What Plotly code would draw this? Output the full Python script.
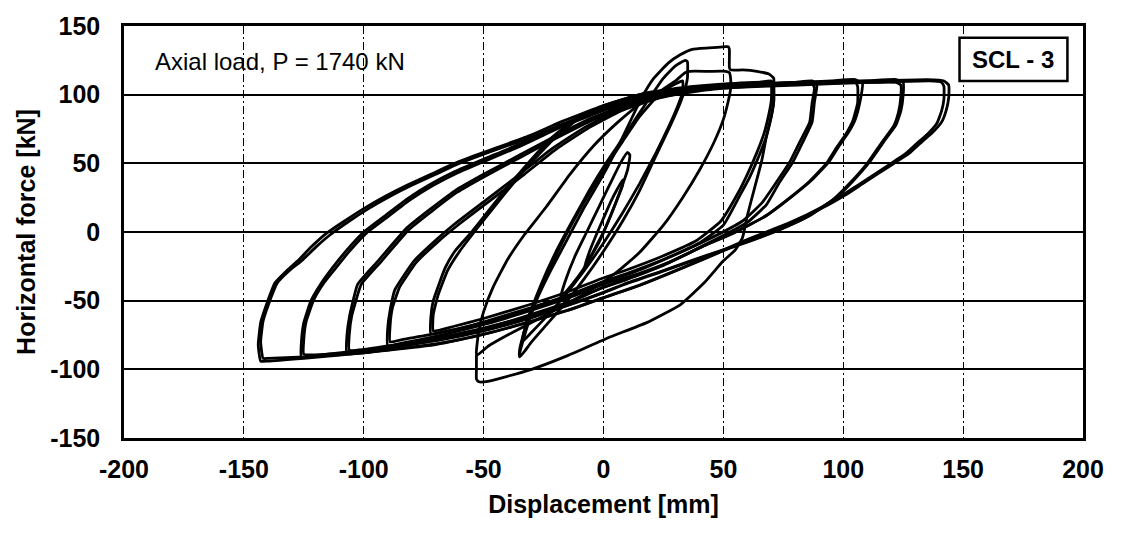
import plotly.graph_objects as go

# Hysteresis record of specimen SCL-3: each list is one load cycle as (displacement mm, force kN)
loop_10 = [(-8, -26), (-6, -15), (-3, -2), (0, 10), (3, 22), (6, 32), (8, 38),
           (8, 34), (6, 25), (3, 12), (0, 0), (-3, -10), (-6, -20), (-8, -26)]

loop_20 = [(-18, -48), (-16, -36), (-12, -18), (-7, 0), (-2, 18), (3, 36), (7, 50), (10, 58),
           (11, 56), (10, 45), (7, 30), (3, 12), (-2, -8), (-8, -26), (-13, -38), (-18, -48)]

loop_35a = [(-35, -91), (-35, -86), (-33, -72), (-30, -56), (-26, -38), (-20, -15), (-13, 8),
            (-6, 30), (1, 50), (8, 68), (14, 84), (19, 97), (25, 112), (30, 121), (34, 125),
            (35, 124), (35, 112), (34, 104), (32, 94), (28, 78), (22, 56), (15, 30), (8, 8),
            (0, -14), (-8, -34), (-16, -52), (-24, -68), (-30, -80), (-33, -87), (-35, -91)]

loop_35b = [(-34, -80), (-32, -65), (-28, -48), (-22, -25), (-15, 0), (-8, 22), (0, 45),
            (8, 66), (15, 84), (22, 98), (28, 106), (33, 110), (33, 102), (31, 92), (27, 76),
            (22, 58), (15, 35), (8, 14), (0, -8), (-8, -28), (-16, -46), (-24, -62),
            (-30, -73), (-34, -80)]

# first excursion past +50 with hold, pushed on to +70, then held at -53
loop_52a = [(-35, -88), (-32, -70), (-28, -50), (-22, -28), (-15, -5), (-8, 18), (0, 42),
            (6, 62), (11, 80), (16, 98), (21, 112), (27, 123), (32, 129), (37, 133),
            (44, 134), (51, 135), (52, 135), (52.5, 133), (52.5, 120), (53, 118), (58, 118),
            (64, 117), (69, 115), (71, 112), (71, 104), (71, 95), (70, 84), (68, 70), (66, 52),
            (63, 32), (60, 12), (58, -4), (55, -13), (50, -21), (42, -37), (32, -53),
            (18, -66), (2, -77), (-15, -90), (-30, -100), (-42, -106), (-49, -109),
            (-52, -109), (-53, -107), (-53, -100), (-53, -90)]

loop_52b = [(-53, -90), (-52, -72), (-50, -58), (-46, -40), (-40, -20), (-33, -2), (-24, 18),
            (-14, 42), (-4, 63), (6, 80), (15, 93), (24, 103), (30, 110), (34, 116), (36, 117),
            (44, 117), (51, 117), (52.5, 116), (53, 112), (53, 104), (52, 95), (50, 82),
            (46, 65), (40, 45), (33, 25), (25, 5), (15, -15), (5, -30), (-5, -42), (-15, -52),
            (-28, -64), (-40, -75), (-48, -83), (-53, -90)]

loop_70a = [(-72, -74), (-72, -62), (-71, -50), (-66, -26), (-62, -14), (-55, 0), (-45, 22),
            (-34, 45), (-22, 68), (-12, 82), (0, 92), (15, 100), (30, 104), (50, 107),
            (65, 109), (70, 110), (71, 106), (71, 95), (70, 85), (68, 70), (65, 56), (61, 40),
            (57, 27), (50, 5), (40, -8), (25, -20), (10, -30), (0, -36), (-13, -45),
            (-30, -55), (-49, -65), (-62, -71), (-72, -74)]

loop_70b = [(-71, -72), (-71, -60), (-69, -46), (-65, -28), (-60, -14), (-53, 2), (-43, 24),
            (-32, 47), (-20, 69), (-10, 83), (2, 93), (17, 101), (32, 105), (52, 108),
            (68, 109), (70, 106), (70, 96), (69, 86), (67, 72), (64, 58), (60, 42), (56, 28),
            (49, 8), (39, -6), (24, -18), (9, -28), (-1, -34), (-14, -43), (-31, -53),
            (-50, -63), (-63, -69), (-71, -72)]

loop_89a = [(-90, -83), (-90, -70), (-89, -57), (-87, -42), (-79, -21), (-70, -6), (-62, 6),
            (-50, 22), (-35, 42), (-22, 60), (-8, 76), (5, 88), (20, 97), (40, 104), (60, 107),
            (80, 109), (87, 110), (89, 107), (88, 95), (87, 80), (83, 65), (79, 51), (73, 35),
            (68, 20), (60, 7), (45, -7), (30, -20), (15, -30), (0, -38), (-13, -47),
            (-30, -57), (-49, -67), (-70, -76), (-84, -81), (-90, -83)]

loop_89b = [(-89, -80), (-89, -68), (-88, -55), (-85, -40), (-78, -22), (-69, -7), (-60, 6),
            (-48, 22), (-33, 42), (-20, 60), (-6, 76), (7, 88), (22, 97), (42, 104), (62, 107),
            (82, 108), (87, 108), (88, 105), (87, 94), (86, 80), (82, 66), (78, 52), (72, 36),
            (66, 21), (58, 8), (43, -6), (28, -18), (13, -29), (-1, -37), (-14, -46),
            (-31, -56), (-50, -66), (-70, -74), (-83, -78), (-89, -80)]

loop_107a = [(-107, -88), (-107, -75), (-106, -62), (-102.5, -38), (-94, -21), (-82, 3),
             (-72, 17), (-62, 30), (-50, 42), (-35, 56), (-20, 70), (-5, 83), (10, 93),
             (25, 100), (45, 105), (70, 108), (95, 110), (105, 111), (108, 108), (107, 95),
             (105, 82), (102, 72), (98, 62), (94, 51), (87, 38), (78, 25), (68, 12), (55, 0),
             (43, -9), (25, -24), (10, -34), (0, -40), (-13, -50), (-30, -60), (-49, -70),
             (-68, -77), (-90, -84), (-107, -88)]

loop_107b = [(-106, -86), (-106, -74), (-105, -61), (-101, -38), (-93, -22), (-81, 2),
             (-71, 16), (-61, 29), (-49, 41), (-34, 55), (-19, 69), (-4, 82), (11, 92),
             (26, 99), (46, 104), (71, 107), (96, 109), (105, 109), (106, 106), (106, 94),
             (104, 81), (101, 71), (97, 61), (93, 50), (86, 37), (77, 24), (67, 11), (54, -1),
             (42, -10), (24, -25), (9, -35), (-1, -41), (-14, -51), (-31, -61), (-50, -70),
             (-69, -77), (-90, -83), (-106, -86)]

loop_125a = [(-126, -91), (-126, -80), (-125, -66), (-122, -50), (-118, -38), (-113, -26),
             (-107, -13), (-100, 0), (-91, 12), (-82, 24), (-72, 35), (-62, 44), (-50, 53),
             (-35, 64), (-18, 78), (0, 90), (15, 98), (30, 103), (50, 106), (80, 108),
             (110, 110), (122, 111), (125, 109), (125, 100), (124, 88), (122, 78), (117, 66),
             (111, 51), (104, 37), (97, 25), (86, 12), (75, 3), (60, -7), (43, -17), (25, -28),
             (10, -37), (0, -44), (-13, -52), (-30, -62), (-49, -71), (-68, -78), (-100, -86),
             (-115, -89), (-126, -91)]

loop_125b = [(-125, -89), (-125, -78), (-124, -65), (-121, -50), (-117, -38), (-112, -27),
             (-106, -14), (-99, -1), (-90, 11), (-81, 23), (-71, 34), (-61, 43), (-49, 52),
             (-34, 63), (-17, 77), (1, 89), (16, 97), (31, 102), (51, 105), (81, 107),
             (111, 109), (122, 109), (124, 107), (124, 98), (123, 87), (121, 77), (116, 65),
             (110, 50), (103, 36), (96, 24), (85, 11), (74, 2), (59, -8), (42, -18), (24, -29),
             (9, -38), (-1, -45), (-14, -53), (-31, -63), (-50, -72), (-69, -79), (-100, -87),
             (-115, -89), (-125, -89)]

loop_144a = [(-143, -94), (-144, -82), (-143, -66), (-141, -55), (-137, -37), (-132, -28),
             (-127.5, -21), (-122, -11), (-116, -1.5), (-108, 8), (-100, 17), (-91, 26),
             (-82, 34), (-72, 42), (-62, 50), (-50, 58), (-31, 70), (-18, 80), (0, 92),
             (15, 99), (30, 104), (50, 107), (80, 109), (110, 110), (135, 111), (142, 110),
             (144, 107), (144, 98), (143, 89), (141, 80), (137, 72), (133, 66), (128, 58),
             (122, 51), (115, 43), (108, 35), (101, 27), (94, 20), (80, 8), (60, -6),
             (43, -19), (15, -39), (0, -48), (-13, -56), (-30, -65), (-49, -74), (-68, -81),
             (-100, -88), (-125, -92), (-140, -94), (-143, -94)]

loop_144b = [(-142, -92), (-143, -80), (-142, -65), (-140, -54), (-136, -37), (-131, -28),
             (-126, -21), (-120, -11), (-114, -2), (-106, 8), (-98, 17), (-89, 26), (-80, 34),
             (-70, 42), (-60, 50), (-48, 58), (-30, 69), (-16, 79), (2, 91), (17, 98),
             (32, 103), (52, 106), (82, 108), (112, 109), (136, 110), (141, 109), (142, 106),
             (142, 97), (141, 88), (139, 79), (135, 71), (131, 65), (126, 57), (120, 50),
             (113, 42), (106, 34), (99, 26), (92, 19), (78, 7), (58, -7), (41, -20), (13, -40),
             (-2, -49), (-15, -57), (-32, -66), (-51, -75), (-70, -82), (-100, -88),
             (-125, -91), (-140, -92), (-142, -92)]

cycles = [loop_10, loop_20, loop_35a, loop_35b, loop_52a, loop_52b, loop_70a, loop_70b,
          loop_89a, loop_89b, loop_107a, loop_107b, loop_125a, loop_125b, loop_144a, loop_144b]

tick_vals = [-200, -150, -100, -50, 0, 50, 100, 150, 200]
tick_text = ["-200", "-150", "-100", "-50", "0", "50", "100", "150", "200"]
force_vals = [-150, -100, -50, 0, 50, 100, 150]
force_text = ["-150", "-100", "-50", "0", "50", "100", "150"]

FONT = "Arial, Liberation Sans, sans-serif"

fig = go.Figure()
for cyc in cycles:
    fig.add_trace(go.Scatter(
        x=[p[0] for p in cyc], y=[p[1] for p in cyc], mode="lines",
        line=dict(color="black", width=2.8, shape="spline", smoothing=0.4),
        showlegend=False, hoverinfo="skip"))

fig.update_layout(
    width=1121, height=538,
    margin=dict(l=124, r=38, t=22, b=100),
    paper_bgcolor="white", plot_bgcolor="white",
    font=dict(family=FONT, color="black"),
    xaxis=dict(range=[-200, 200], tickvals=tick_vals, ticktext=tick_text,
               showgrid=True, gridcolor="black", gridwidth=1, griddash="8px,3px,2px,3px",
               zeroline=False, showline=True, linecolor="black", linewidth=2.5, mirror=True,
               ticks="", ticklabelstandoff=7,
               tickfont=dict(size=25, weight="bold"),
               title=dict(text="Displacement [mm]", font=dict(size=25, weight="bold"), standoff=14)),
    yaxis=dict(range=[-150, 150], tickvals=force_vals, ticktext=force_text,
               showgrid=True, gridcolor="black", gridwidth=1.6,
               zeroline=False, showline=True, linecolor="black", linewidth=2.5, mirror=True,
               ticks="", ticklabelstandoff=16,
               tickfont=dict(size=25, weight="bold"),
               title=dict(text="Horizontal force [kN]", font=dict(size=25, weight="bold"), standoff=8)),
)

fig.add_annotation(x=-188, y=124.5, xref="x", yref="y", text="Axial load, P = 1740 kN",
                   showarrow=False, xanchor="left", yanchor="middle",
                   font=dict(size=24, family=FONT))
fig.add_shape(type="rect", xref="x", yref="y", x0=148.5, x1=193.5, y0=110, y1=141.5,
              line=dict(color="black", width=2.5), fillcolor="white", layer="above")
fig.add_annotation(x=171, y=125.8, xref="x", yref="y", text="SCL - 3",
                   showarrow=False, xanchor="center", yanchor="middle",
                   font=dict(size=24, family=FONT, weight="bold"))

fig.write_html("out.html")
